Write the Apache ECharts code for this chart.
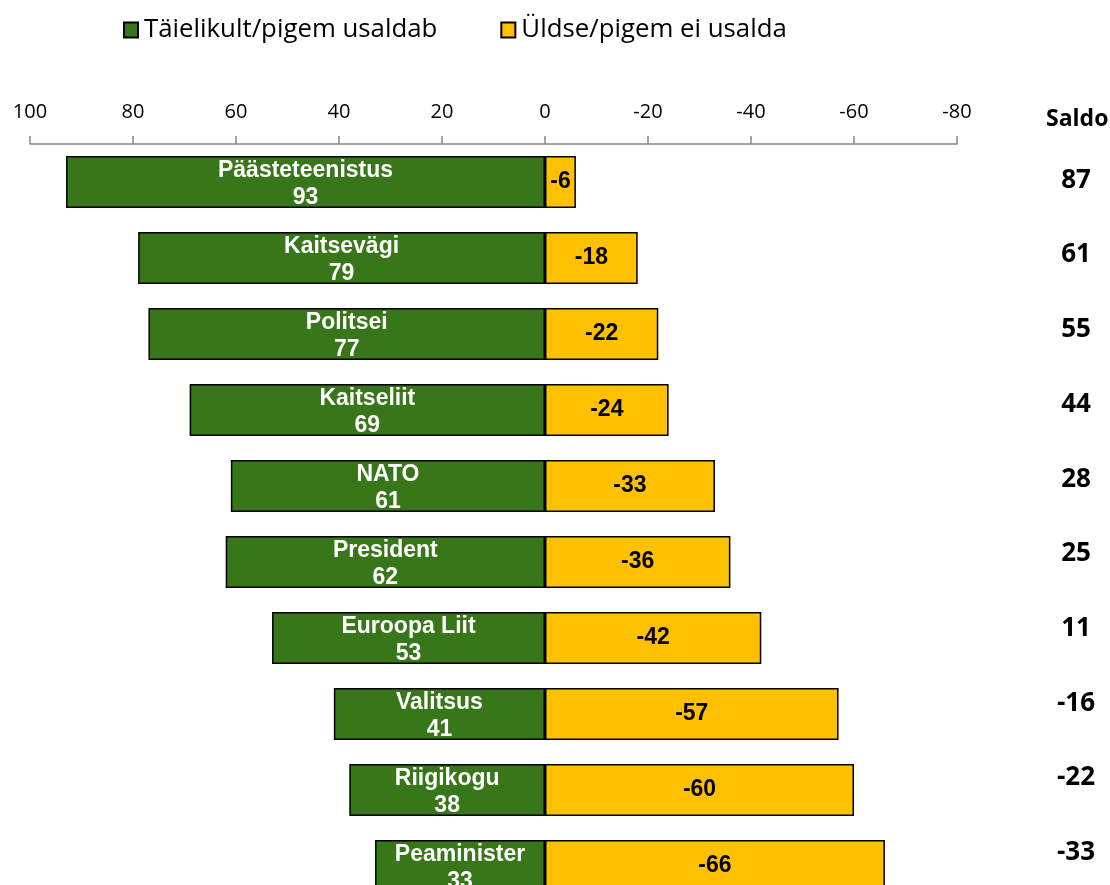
<!DOCTYPE html>
<html><head><meta charset="utf-8">
<script src="https://cdn.jsdelivr.net/npm/echarts@6/dist/echarts.min.js"></script>
<style>html,body{margin:0;padding:0;background:#fff}#c{width:1110px;height:885px}</style>
</head><body><div id="c"></div>
<script>
const categories = ['Päästeteenistus','Kaitsevägi','Politsei','Kaitseliit','NATO','President','Euroopa Liit','Valitsus','Riigikogu','Peaminister'];
const trustValues = [93,79,77,69,61,62,53,41,38,33];
const distrustValues = [-6,-18,-22,-24,-33,-36,-42,-57,-60,-66];
const saldoValues = [87,61,55,44,28,25,11,-16,-22,-33];
const seriesNames = ['Täielikult/pigem usaldab','Üldse/pigem ei usalda'];

const chart = echarts.init(document.getElementById('c'));
chart.setOption({
  animation:false,
  backgroundColor:'#fff',
  title:{text:'Saldo',left:1041,top:103,textStyle:{fontFamily:'Open Sans',fontWeight:'bold',fontSize:23,color:'#000'}},
  legend:{top:12,left:118,itemGap:63,itemWidth:14,itemHeight:15,icon:'rect',
    textStyle:{fontFamily:'Open Sans',fontSize:25.8,color:'#000',padding:[0,0,0,1]},
    data:seriesNames},
  grid:[{left:30,right:153,top:144,bottom:-19,outerBoundsMode:'none',containLabel:false},
        {left:30,right:153,top:143,height:747,outerBoundsMode:'none',containLabel:false}],
  xAxis:[{type:'value',gridIndex:0,position:'top',inverse:true,min:-80,max:100,interval:20,
    axisLine:{show:true,lineStyle:{color:'#868686',width:1.5}},
    axisTick:{show:true,length:8,lineStyle:{color:'#868686',width:1.5}},
    axisLabel:{margin:22,fontFamily:'Open Sans',fontSize:20,color:'#000'},
    splitLine:{show:false}},
    {type:'value',gridIndex:1,show:false,min:0,max:1}],
  yAxis:[{type:'category',gridIndex:0,data:categories,inverse:true,show:false},
    {type:'category',gridIndex:1,data:categories,inverse:true,position:'right',
      axisLine:{show:false},axisTick:{show:false},splitLine:{show:false},
      axisLabel:{margin:119,align:'center',fontFamily:'Open Sans',fontWeight:'bold',fontSize:26,color:'#000',
        formatter:(v,i)=>String(saldoValues[i])}}],
  series:[
    {name:seriesNames[0],type:'bar',stack:'s',data:trustValues,barWidth:52,
      itemStyle:{color:'#38761a',borderColor:'#000',borderWidth:1.5},
      label:{show:true,position:'inside',offset:[0,2],formatter:'{b}\n{c}',color:'#fff',fontFamily:'Liberation Sans',fontWeight:'bold',fontSize:23,lineHeight:27}},
    {name:seriesNames[1],type:'bar',stack:'s',data:distrustValues,barWidth:52,
      itemStyle:{color:'#ffc000',borderColor:'#000',borderWidth:1.5},
      label:{show:true,position:'inside',formatter:'{c}',color:'#000',fontFamily:'Liberation Sans',fontWeight:'bold',fontSize:23}}
  ]
});
</script></body></html>
